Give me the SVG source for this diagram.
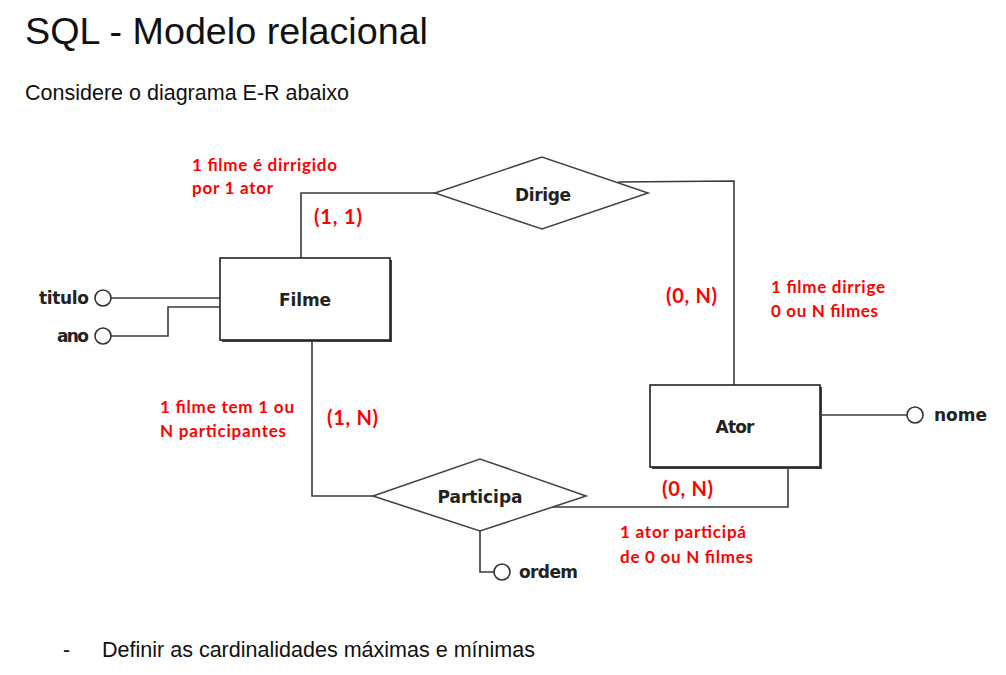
<svg xmlns="http://www.w3.org/2000/svg" width="1006" height="675" viewBox="0 0 1006 675">
<style>
.head{font-family:"Liberation Sans",Arial,sans-serif;fill:#111}
.lbl{font-family:"DejaVu Sans",Verdana,sans-serif;font-weight:bold;font-size:17px;fill:#222}
.red{font-family:Lato,"Open Sans",sans-serif;font-weight:bold;font-size:17px;fill:#ff0000}
.card{font-family:Lato,"Open Sans",sans-serif;font-weight:bold;font-size:20px;fill:#ff0000}
.ln{fill:none;stroke:#3a3a3a;stroke-width:1.6}
.ent{fill:#fff;stroke:#222;stroke-width:1.6}
.sh{fill:#444}
.rel{fill:#fff;stroke:#444;stroke-width:1.6}
.att{fill:#fff;stroke:#333;stroke-width:1.6}
</style>
<rect width="1006" height="675" fill="#fff"/>
<text class="head" x="25" y="44" font-size="37" textLength="403" lengthAdjust="spacingAndGlyphs">SQL - Modelo relacional</text>
<text class="head" x="25" y="100" font-size="21.5" textLength="324" lengthAdjust="spacingAndGlyphs">Considere o diagrama E-R abaixo</text>
<text class="head" x="63" y="657" font-size="21.5">-</text>
<text class="head" x="102" y="657" font-size="21.5" textLength="433" lengthAdjust="spacingAndGlyphs">Definir as cardinalidades máximas e mínimas</text>

<g id="connectors">
<polyline class="ln" points="301,258 301,193 435,193"/>
<polyline class="ln" points="618,182 734,181 734,385"/>
<polyline class="ln" points="312,340 312,496 373,496"/>
<polyline class="ln" points="550,507 788,507 788,467"/>
<polyline class="ln" points="480,531 480,572 494,572"/>
<line class="ln" x1="111" y1="298" x2="220" y2="298"/>
<polyline class="ln" points="111,336 168,336 168,307 220,307"/>
<line class="ln" x1="820" y1="415" x2="907" y2="415"/>
</g>

<g id="filme">
<rect class="sh" x="222" y="260" width="170" height="82"/>
<rect class="ent" x="220" y="258" width="170" height="82"/>
<text class="lbl" x="305" y="306" text-anchor="middle" textLength="52">Filme</text>
</g>
<g id="ator">
<rect class="sh" x="652" y="387" width="170" height="82"/>
<rect class="ent" x="650" y="385" width="170" height="82"/>
<text class="lbl" x="735" y="433" text-anchor="middle" textLength="39">Ator</text>
</g>
<g id="dirige">
<polygon class="rel" points="435,193 542,157 648,193 542,229"/>
<text class="lbl" x="543" y="201" text-anchor="middle" textLength="56">Dirige</text>
</g>
<g id="participa">
<polygon class="rel" points="373,496 480,459 586,496 480,531"/>
<text class="lbl" x="480" y="503" text-anchor="middle" textLength="85">Participa</text>
</g>
<g id="titulo">
<circle class="att" cx="103" cy="298" r="8"/>
<text class="lbl" x="89" y="304" text-anchor="end" textLength="50">titulo</text>
</g>
<g id="ano">
<circle class="att" cx="103" cy="336" r="8"/>
<text class="lbl" x="89" y="342" text-anchor="end" textLength="32">ano</text>
</g>
<g id="nome">
<circle class="att" cx="915" cy="415" r="8"/>
<text class="lbl" x="934" y="421" textLength="53">nome</text>
</g>
<g id="ordem">
<circle class="att" cx="502" cy="572" r="8"/>
<text class="lbl" x="519" y="578" textLength="59">ordem</text>
</g>

<g id="annotations">
<text class="red" x="192" y="171" textLength="145">1 filme é dirrigido</text>
<text class="red" x="192" y="194" textLength="81">por 1 ator</text>
<text class="card" x="314" y="224" textLength="48">(1, 1)</text>
<text class="card" x="666" y="303" textLength="51">(0, N)</text>
<text class="red" x="771" y="293" textLength="114">1 filme dirrige</text>
<text class="red" x="771" y="317" textLength="107">0 ou N filmes</text>
<text class="red" x="160" y="413" textLength="134">1 filme tem 1 ou</text>
<text class="red" x="160" y="437" textLength="126">N participantes</text>
<text class="card" x="327" y="425" textLength="51">(1, N)</text>
<text class="card" x="662" y="496" textLength="51">(0, N)</text>
<text class="red" x="620" y="538" textLength="126">1 ator participá</text>
<text class="red" x="620" y="563" textLength="133">de 0 ou N filmes</text>
</g>
</svg>
